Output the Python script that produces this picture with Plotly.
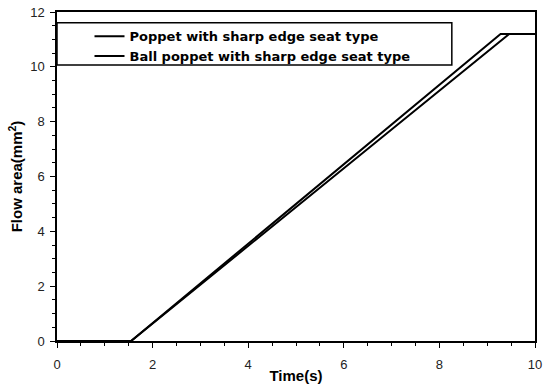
import plotly.graph_objects as go

# Data
time_poppet = [0, 1.55, 9.28, 10]
area_poppet = [0, 0, 11.2, 11.2]
time_ball = [0, 1.55, 9.46, 10]
area_ball = [0, 0, 11.2, 11.2]
names = ["Poppet with sharp edge seat type", "Ball poppet with sharp edge seat type"]

fig = go.Figure()
fig.add_trace(go.Scatter(x=time_poppet, y=area_poppet, mode="lines", name=names[0],
                         line=dict(color="black", width=2)))
fig.add_trace(go.Scatter(x=time_ball, y=area_ball, mode="lines", name=names[1],
                         line=dict(color="black", width=2)))

axis_common = dict(
    showline=True, linecolor="black", linewidth=1.5, mirror=True, automargin=False,
    ticks="outside", ticklen=5, tickcolor="black", showgrid=False, zeroline=False,
    tickfont=dict(family="Liberation Sans, Arial", size=13, color="#222"),
    minor=dict(ticks="outside", ticklen=3, tickcolor="black"),
)

fig.update_xaxes(range=[0, 10], dtick=2, ticklabelstandoff=6, **axis_common,
                 title=dict(text="<b>Time(s)</b>", standoff=4,
                            font=dict(family="Liberation Sans, Arial", size=15, color="black")))
fig.update_yaxes(range=[0, 12], dtick=2, ticklabelstandoff=3, **axis_common,
                 title=dict(text="<b>Flow area(mm<sup>2</sup>)</b>", standoff=4,
                            font=dict(family="Liberation Sans, Arial", size=15, color="black")))

fig.add_shape(type="rect", xref="x domain", yref="y domain", x0=0, x1=0.826, y0=0.839, y1=0.967,
              line=dict(color="black", width=1.5), fillcolor="white", layer="below")

fig.update_layout(
    width=553, height=384,
    margin=dict(l=57, r=18, t=12, b=43),
    plot_bgcolor="white", paper_bgcolor="white",
    legend=dict(x=0.068, y=0.972, xanchor="left", yanchor="top", bgcolor="rgba(0,0,0,0)",
                borderwidth=0, tracegroupgap=0,
                font=dict(family="DejaVu Sans", size=13, weight="bold", color="black")),
)

fig.write_html("out.html")
